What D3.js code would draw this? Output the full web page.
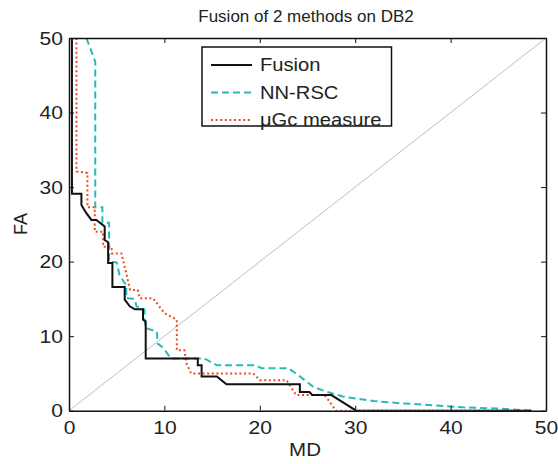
<!DOCTYPE html>
<html><head><meta charset="utf-8">
<script src="https://cdn.jsdelivr.net/npm/d3@7"></script>
<style>body{margin:0;background:#fff;}text{font-family:"Liberation Sans",Arial,sans-serif;fill:#222;}</style>
</head><body><svg id="c" width="558" height="464"></svg>
<script>
const xTicks=[0,10,20,30,40,50];
const yTicks=[0,10,20,30,40,50];
const seriesNames=["Fusion","NN-RSC","\u03bcGc measure"];
const fusion=[[0.31,50],[0.31,29.1],[1.3,29.1],[1.3,27.6],[1.82,26.5],[2.35,25.6],[2.87,25.6],[3.74,24.7],[3.74,22.9],[4.1,22.6],[4.1,19.8],[4.55,19.8],[4.55,16.6],[5.84,16.6],[5.84,14.9],[6.37,14.0],[6.9,13.6],[7.76,13.6],[7.76,12.2],[8.04,12.0],[8.04,7.0],[13.5,7.0],[13.5,6.1],[13.9,6.1],[13.9,4.6],[15.5,4.6],[16.5,3.55],[24.2,3.55],[24.2,2.5],[25.2,2.5],[25.5,2.1],[27.5,2.1],[30.1,0],[48.5,0]];
const nnrsc=[[1.82,50],[2.35,48.2],[2.75,46.8],[2.75,27.3],[3.5,27.3],[3.5,25.2],[4.2,25.2],[4.2,20.0],[5.0,19.9],[5.3,18.2],[5.84,17.1],[6.0,17.0],[6.0,15.1],[6.9,15.0],[7.07,14.0],[7.9,13.6],[8.0,11.1],[9.2,10.6],[9.3,9.0],[9.9,8.4],[10.4,7.5],[10.6,7.0],[14.2,7.0],[15.5,6.1],[19.5,6.1],[20.2,5.7],[23.0,5.7],[24.2,4.6],[25.6,3.2],[27.0,2.55],[28.7,1.9],[31.9,1.3],[34.7,1.0],[36.1,0.9],[41.3,0.45],[44.8,0.3],[48.5,0]];
const ugc=[[0.78,50],[0.78,32.1],[1.93,31.9],[1.93,27.3],[2.7,27.3],[2.7,24.0],[3.57,24.0],[3.57,22.0],[4.45,22.0],[4.5,21.1],[5.5,21.1],[6.0,18.4],[6.4,16.2],[7.2,16.2],[7.4,15.1],[8.8,15.1],[10.0,13.1],[11.3,12.2],[11.3,8.1],[12.1,8.1],[12.3,6.4],[12.8,5.0],[19.3,5.0],[20.0,4.1],[22.8,4.1],[23.8,2.1],[26.8,2.1],[28.0,0],[48.5,0]];
const diag=[[0,0],[50,50]];

const L=69,R=546,T=38,B=410.7;
const SX=1.12;
const svg=d3.select("#c");
const x=d3.scaleLinear().domain([0,50]).range([L,R]);
const y=d3.scaleLinear().domain([0,50]).range([B,T]);
svg.append("defs").append("clipPath").attr("id","cp").append("rect").attr("x",L).attr("y",T).attr("width",R-L).attr("height",B-T);
const line=d3.line().x(d=>x(d[0])).y(d=>y(d[1]));
const g=svg.append("g").attr("clip-path","url(#cp)");
g.append("path").datum(diag).attr("d",line).attr("fill","none").attr("stroke","#bdbdbd").attr("stroke-width",1);
const styles=[{c:"#111",w:2,d:null},{c:"#2bb8b8",w:2,d:"7,4"},{c:"#ec4a24",w:2,d:"2,2.6"}];
const data=[fusion,nnrsc,ugc];
[1,2,0].forEach(i=>{
  const p=g.append("path").datum(data[i]).attr("d",line).attr("fill","none").attr("stroke",styles[i].c).attr("stroke-width",styles[i].w);
  if(styles[i].d)p.attr("stroke-dasharray",styles[i].d);
});
// axes (box with inward ticks)
const fs="18.8px";
const ax=svg.append("g").attr("transform",`translate(0,${B})`).call(d3.axisBottom(x).tickValues(xTicks).tickSizeInner(-5).tickSizeOuter(0).tickPadding(9.5));
const ay=svg.append("g").attr("transform",`translate(${L},0)`).call(d3.axisLeft(y).tickValues(yTicks).tickSizeInner(-5).tickSizeOuter(0));
const at=svg.append("g").attr("transform",`translate(0,${T})`).call(d3.axisTop(x).tickValues(xTicks).tickSizeInner(-5).tickSizeOuter(0).tickFormat(""));
const ar=svg.append("g").attr("transform",`translate(${R},0)`).call(d3.axisRight(y).tickValues(yTicks).tickSizeInner(-5).tickSizeOuter(0).tickFormat(""));
[ax,ay,at,ar].forEach(a=>{a.select(".domain").attr("stroke","#111").attr("stroke-width",1.5);a.selectAll(".tick line").attr("stroke","#111");a.selectAll("text").style("font-size",fs).attr("fill","#222").attr("transform",`scale(${SX},1)`);});
ay.selectAll("text").attr("x",-6/SX);
// titles
svg.append("text").attr("x",306).attr("y",22).attr("text-anchor","middle").style("font-size","17px").text("Fusion of 2 methods on DB2");
svg.append("text").attr("transform","translate(305,456) scale(1.08,1)").attr("text-anchor","middle").style("font-size","19px").text("MD");
svg.append("text").attr("transform","translate(26.5,224) rotate(-90)").attr("text-anchor","middle").style("font-size","18px").text("FA");
// legend
const lg=svg.append("g");
lg.append("rect").attr("x",202).attr("y",47).attr("width",189.5).attr("height",79).attr("fill","#fff").attr("stroke","#111").attr("stroke-width",1.5);
const rows=[65,92.5,120];
seriesNames.forEach((n,i)=>{
  const l=lg.append("line").attr("x1",211).attr("x2",252).attr("y1",rows[i]).attr("y2",rows[i]).attr("stroke",styles[i].c).attr("stroke-width",styles[i].w);
  if(styles[i].d)l.attr("stroke-dasharray",styles[i].d);
  lg.append("text").attr("transform",`translate(260,${rows[i]}) scale(${SX},1)`).attr("dy","0.36em").style("font-size","18px").text(n);
});
</script></body></html>
